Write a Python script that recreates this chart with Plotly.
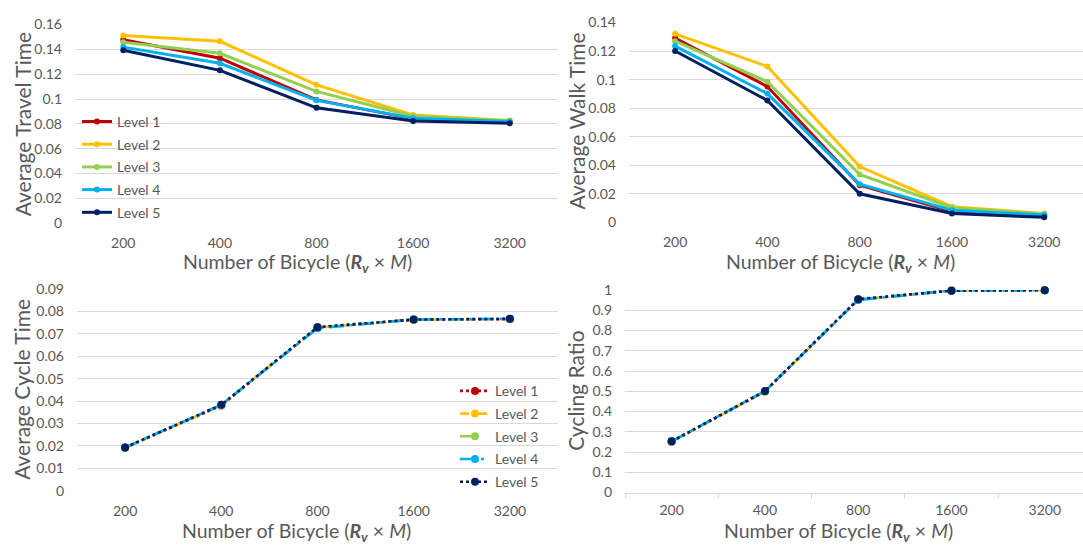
import plotly.graph_objects as go

# Categories shared by all four panels
bikes = ["200", "400", "800", "1600", "3200"]
levels = ["Level 1", "Level 2", "Level 3", "Level 4", "Level 5"]

# Average travel time per level
travel_l1 = [0.1478, 0.1329, 0.0993, 0.0840, 0.0810]
travel_l2 = [0.1512, 0.1465, 0.1114, 0.0872, 0.0827]
travel_l3 = [0.1457, 0.1368, 0.1061, 0.0861, 0.0822]
travel_l4 = [0.1418, 0.1288, 0.0989, 0.0845, 0.0818]
travel_l5 = [0.1392, 0.1231, 0.0929, 0.0822, 0.0804]

# Average walk time per level
walk_l1 = [0.1291, 0.0951, 0.0260, 0.0075, 0.0045]
walk_l2 = [0.1321, 0.1092, 0.0390, 0.0109, 0.0061]
walk_l3 = [0.1269, 0.0985, 0.0335, 0.0102, 0.0058]
walk_l4 = [0.1235, 0.0902, 0.0267, 0.0084, 0.0050]
walk_l5 = [0.1201, 0.0854, 0.0199, 0.0061, 0.0034]

# Average cycle time per level
cycle_l1 = [0.0191, 0.0380, 0.0729, 0.0763, 0.0766]
cycle_l2 = [0.0192, 0.0381, 0.0728, 0.0763, 0.0766]
cycle_l3 = [0.0192, 0.0382, 0.0727, 0.0764, 0.0767]
cycle_l4 = [0.0193, 0.0383, 0.0725, 0.0764, 0.0767]
cycle_l5 = [0.0193, 0.0383, 0.0730, 0.0764, 0.0767]

# Cycling ratio per level
ratio_l1 = [0.251, 0.499, 0.953, 0.998, 0.999]
ratio_l2 = [0.252, 0.498, 0.952, 0.997, 0.999]
ratio_l3 = [0.252, 0.500, 0.954, 0.997, 0.999]
ratio_l4 = [0.253, 0.501, 0.951, 0.997, 0.999]
ratio_l5 = [0.253, 0.501, 0.955, 0.997, 0.999]

# Y tick labels
travel_ticks = [0, 0.02, 0.04, 0.06, 0.08, 0.1, 0.12, 0.14, 0.16]
walk_ticks = [0, 0.02, 0.04, 0.06, 0.08, 0.1, 0.12, 0.14]
cycle_ticks = [0, 0.01, 0.02, 0.03, 0.04, 0.05, 0.06, 0.07, 0.08, 0.09]
ratio_ticks = [0, 0.1, 0.2, 0.3, 0.4, 0.5, 0.6, 0.7, 0.8, 0.9, 1]

colors = ["#C00000", "#FFC000", "#92D050", "#00B0F0", "#002060"]
dashes = ["dot", "dash", "longdash", "longdashdot", "dot"]

W, H = 1083, 550
FONT = "Lato"
GREY = "#595959"
GRID = "#D9D9D9"


def fx(px):
    return px / W


def fy(py):
    return 1 - py / H


fig = go.Figure()

panels = [
    # (series, axis suffix, legend, solid lines?)
    ([travel_l1, travel_l2, travel_l3, travel_l4, travel_l5], "", "legend", True),
    ([walk_l1, walk_l2, walk_l3, walk_l4, walk_l5], "2", None, True),
    ([cycle_l1, cycle_l2, cycle_l3, cycle_l4, cycle_l5], "3", "legend2", False),
    ([ratio_l1, ratio_l2, ratio_l3, ratio_l4, ratio_l5], "4", None, False),
]

for series, ax, leg, solid in panels:
    for i, (name, vals) in enumerate(zip(levels, series)):
        fig.add_trace(go.Scatter(
            x=bikes, y=vals, name=name, mode="lines+markers",
            xaxis="x" + ax, yaxis="y" + ax,
            line=dict(color=colors[i], width=3 if solid else 2.6,
                      dash="solid" if solid else dashes[i]),
            marker=dict(color=colors[i], size=6 if solid else 8,
                        symbol="circle"),
            showlegend=leg is not None,
            legend=leg if leg else "legend",
            legendgroup=f"p{ax}_{i}",
            cliponaxis=False,
        ))


def xaxis(x0, x1, y_anchor, hi, boundary_ticks=False):
    d = dict(
        domain=[fx(x0), fx(x1)], anchor=y_anchor, type="category",
        range=[-0.5, hi], showgrid=False, zeroline=False,
        tickfont=dict(family=FONT, size=14, color=GREY),
        ticklabelstandoff=10, fixedrange=True,
    )
    if boundary_ticks:
        d.update(showline=True, linecolor=GRID, linewidth=1,
                 ticks="outside", tickson="boundaries", ticklen=5,
                 tickcolor=GRID, ticklabelstandoff=5)
    else:
        d.update(showline=False, ticks="")
    return d


def yaxis(y0, y1, x_anchor, top, ticks):
    return dict(
        domain=[fy(y1), fy(y0)], anchor=x_anchor, range=[0, top],
        tickvals=ticks, ticktext=[f"{v:g}" for v in ticks],
        showgrid=True, gridcolor=GRID, gridwidth=1, zeroline=False,
        showline=False, ticks="", ticklabelstandoff=12,
        tickfont=dict(family=FONT, size=14, color=GREY), fixedrange=True,
    )


legend_common = dict(
    font=dict(family=FONT, size=14, color=GREY),
    bgcolor="rgba(0,0,0,0)", borderwidth=0, tracegroupgap=1.5,
    itemsizing="trace", xanchor="left", yanchor="top",
)

title_font = dict(family=FONT, size=21, color=GREY)
xtitle = "Number of Bicycle (<b><i>R</i></b><sub><b><i>v</i></b></sub> × <i>M</i>)"

annotations = []
for tx, ty, text in [(22, 119, "Average Travel Time"),
                     (576, 116, "Average Walk Time"),
                     (22, 393, "Average Cycle Time"),
                     (576, 394, "Cycling Ratio")]:
    annotations.append(dict(x=fx(tx), y=fy(ty), xref="paper", yref="paper",
                            text=text, textangle=-90, showarrow=False,
                            font=title_font, xanchor="center", yanchor="middle"))
for tx, ty in [(297, 262), (840, 262), (296, 540), (838, 540)]:
    annotations.append(dict(x=fx(tx), y=fy(ty), xref="paper", yref="paper",
                            text=xtitle, showarrow=False,
                            font=dict(family=FONT, size=19.5, color=GREY),
                            xanchor="center", yanchor="middle"))

fig.update_layout(
    width=W, height=H,
    margin=dict(l=0, r=0, t=0, b=0),
    paper_bgcolor="white", plot_bgcolor="white",
    xaxis=xaxis(75, 558, "y", 4.5),
    yaxis=yaxis(16, 221, "x", 0.16, travel_ticks),
    xaxis2=xaxis(629, 1083, "y2", 4.42),
    yaxis2=yaxis(14, 220, "x2", 0.14, walk_ticks),
    xaxis3=xaxis(77, 558, "y3", 4.5),
    yaxis3=yaxis(289, 497, "x3", 0.09, cycle_ticks),
    xaxis4=xaxis(625, 1083, "y4", 4.41, boundary_ticks=True),
    yaxis4=yaxis(290, 499, "x4", 1.0, ratio_ticks),
    legend=dict(x=fx(77), y=fy(100), **legend_common),
    legend2=dict(x=fx(455), y=fy(378), **legend_common),
    annotations=annotations,
    showlegend=True,
)

fig.write_html("out.html")
